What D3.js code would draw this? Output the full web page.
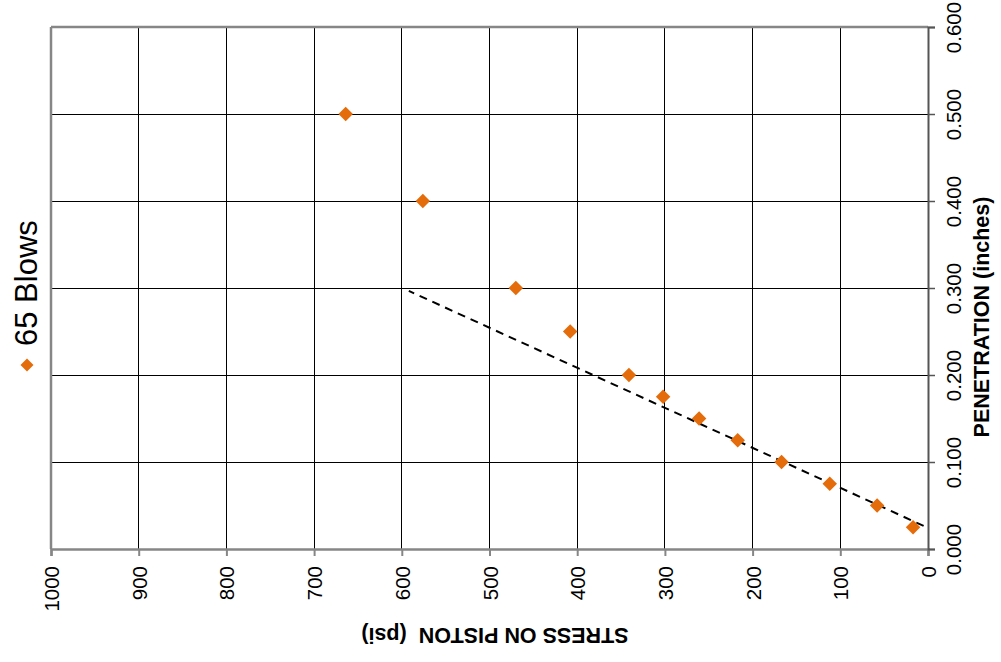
<!DOCTYPE html>
<html>
<head>
<meta charset="utf-8">
<script src="https://cdn.jsdelivr.net/npm/d3@7"></script>
<style>
  html, body { margin: 0; padding: 0; background: #fff; }
  svg { display: block; font-family: "Liberation Sans", Arial, sans-serif; }
</style>
</head>
<body>
<svg id="chart" width="1001" height="662"></svg>
<script>
// CBR test, 65 blows: stress on piston vs. penetration
const penetration = [0.500, 0.400, 0.300, 0.250, 0.200, 0.175, 0.150, 0.125, 0.100, 0.075, 0.050, 0.025];
const stress      = [664, 576, 470, 408, 341, 302, 261, 217, 167, 112, 58, 17];

// dashed trend line through the lower points
const trendStress = [5, 592];
const trendPen    = [0.0266, 0.2966];

const stressTicks = [1000, 900, 800, 700, 600, 500, 400, 300, 200, 100, 0];
const penTicks    = [0, 0.1, 0.2, 0.3, 0.4, 0.5, 0.6];
const seriesName  = "65 Blows";
const xTitle      = "STRESS ON PISTON\u00A0\u00A0(psi)";
const yTitle      = "PENETRATION (inches)";

const plot = { left: 51, right: 928, top: 27, bottom: 549 };
const orange = "#E46C0A";
const axisGrey = "#868686";

const svg = d3.select("#chart");

const x = d3.scaleLinear().domain([1000, 0]).range([plot.left, plot.right]);
const y = d3.scaleLinear().domain([0, 0.6]).range([plot.bottom, plot.top]);

// grid
const grid = svg.append("g");
grid.selectAll("line.v").data(stressTicks.filter(d => d !== 1000 && d !== 0)).enter()
  .append("line")
  .attr("x1", d => x(d)).attr("x2", d => x(d))
  .attr("y1", plot.top).attr("y2", plot.bottom)
  .attr("stroke", "#000").attr("stroke-width", 1).attr("shape-rendering", "crispEdges");
grid.selectAll("line.h").data(penTicks.filter(d => d !== 0 && d !== 0.6)).enter()
  .append("line")
  .attr("x1", plot.left).attr("x2", plot.right)
  .attr("y1", d => y(d)).attr("y2", d => y(d))
  .attr("stroke", "#000").attr("stroke-width", 1).attr("shape-rendering", "crispEdges");

// plot frame (top and left)
svg.append("line").attr("x1", plot.left).attr("x2", plot.right).attr("y1", plot.top).attr("y2", plot.top)
  .attr("stroke", axisGrey).attr("stroke-width", 2.5);
svg.append("line").attr("x1", plot.left).attr("x2", plot.left).attr("y1", plot.top).attr("y2", plot.bottom)
  .attr("stroke", axisGrey).attr("stroke-width", 2.5);

// bottom axis (stress)
const xAxis = d3.axisBottom(x).tickValues(stressTicks).tickSize(7).tickFormat(d3.format("d"));
const gx = svg.append("g").attr("transform", `translate(0,${plot.bottom})`).call(xAxis);
gx.select(".domain").attr("stroke", axisGrey).attr("stroke-width", 2.5);
gx.selectAll(".tick line").attr("stroke", axisGrey).attr("stroke-width", 2);
gx.selectAll(".tick text")
  .attr("font-size", 20.5).attr("fill", "#000")
  .attr("text-anchor", "end")
  .attr("x", 0).attr("y", 0).attr("dy", null)
  .attr("transform", "translate(7.5,17) rotate(-90)");

// right axis (penetration)
const yAxis = d3.axisRight(y).tickValues(penTicks).tickSize(7).tickFormat(d3.format(".3f"));
const gy = svg.append("g").attr("transform", `translate(${plot.right},0)`).call(yAxis);
gy.select(".domain").attr("stroke", "#555").attr("stroke-width", 2);
gy.selectAll(".tick line").attr("stroke", "#555").attr("stroke-width", 1.5);
gy.selectAll(".tick text")
  .attr("font-size", 20.5).attr("fill", "#000")
  .attr("text-anchor", "middle")
  .attr("x", 0).attr("y", 0).attr("dy", null)
  .attr("transform", "translate(33,0) rotate(-90)");

// trend line
const line = d3.line().x(d => x(d[0])).y(d => y(d[1]));
svg.append("path")
  .datum(trendStress.map((s, i) => [s, trendPen[i]]))
  .attr("d", line)
  .attr("fill", "none").attr("stroke", "#000").attr("stroke-width", 2)
  .attr("stroke-dasharray", "8,6");

// data points
const diamond = d3.symbol().type(d3.symbolSquare).size(105);
svg.append("g").selectAll("path").data(stress.map((s, i) => [s, penetration[i]])).enter()
  .append("path")
  .attr("d", diamond)
  .attr("transform", d => `translate(${x(d[0])},${y(d[1])}) rotate(45)`)
  .attr("fill", orange);

// axis titles
svg.append("text")
  .attr("transform", `translate(495,628) rotate(180)`)
  .attr("text-anchor", "middle").attr("font-weight", "bold").attr("font-size", 21.5)
  .text(xTitle);
svg.append("text")
  .attr("transform", "translate(989,317) rotate(-90)")
  .attr("text-anchor", "middle").attr("font-weight", "bold").attr("font-size", 21.5)
  .text(yTitle);

// legend
svg.append("path")
  .attr("d", d3.symbol().type(d3.symbolSquare).size(85))
  .attr("transform", "translate(27,365) rotate(45)")
  .attr("fill", orange);
svg.append("text")
  .attr("transform", "translate(37,346) rotate(-90)")
  .attr("text-anchor", "start").attr("font-size", 31)
  .text(seriesName);
</script>
</body>
</html>
